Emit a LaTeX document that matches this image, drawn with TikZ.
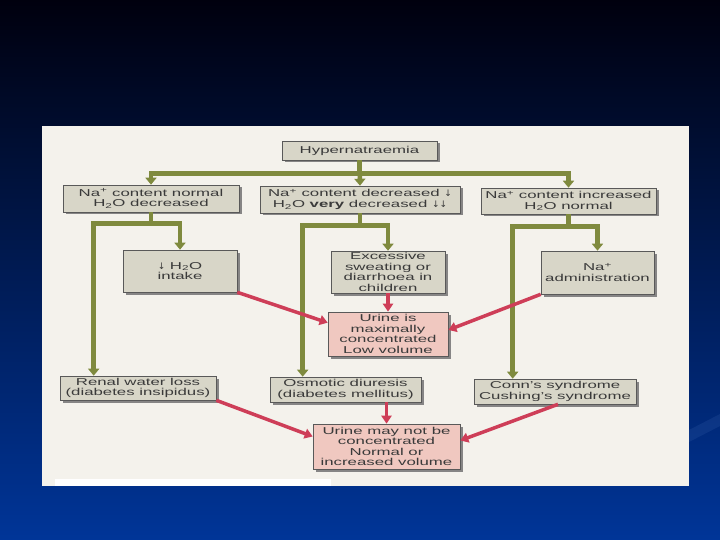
\documentclass[tikz,border=0pt]{standalone}
\usepackage{fontspec}
\setmainfont[FakeStretch=1.68]{Liberation Sans}
\newfontfamily\arrfont{DejaVu Sans}
\newcommand{\dn}{{\arrfont\fontsize{9}{10}\selectfont ↓}}
\usetikzlibrary{calc,shadows,arrows.meta}
\definecolor{bgtop}{HTML}{00000E}
\definecolor{bgmid}{HTML}{00246C}
\definecolor{bgbot}{HTML}{003598}
\definecolor{panel}{HTML}{F4F2EC}
\definecolor{greybox}{HTML}{D8D6C8}
\definecolor{pinkbox}{HTML}{F0C8C0}
\definecolor{grn}{HTML}{7F8A3E}
\definecolor{rd}{HTML}{CE3E58}
\definecolor{txt}{HTML}{3A3A3A}
\begin{document}
\begin{tikzpicture}[x=1pt,y=-1pt,
  box/.style={draw=black!65, line width=0.6pt, fill=greybox, text=txt, align=center,
    inner sep=1pt, font=\fontsize{10}{10.6}\selectfont,
    drop shadow={shadow xshift=2.5pt, shadow yshift=-2.5pt, fill=black!55, opacity=0.85}},
  pbox/.style={box, fill=pinkbox},
  garrow/.style={draw=grn, line width=4.5pt, line join=miter, -{Triangle[width=11pt,length=7pt]}},
  rarrow/.style={draw=rd, line width=3.5pt, -{Triangle[width=10pt,length=8pt]}},
]
\useasboundingbox (0,0) rectangle (720,540);
\shade[top color=bgtop, middle color=bgmid, bottom color=bgbot] (0,0) rectangle (720,540);
\fill[bgbot!75!white, opacity=0.2] (689,430) -- (720,414) -- (720,426) -- (689,442) -- cycle;
\fill[panel] (42,126) rectangle (689,486);
\fill[white] (55,479) rectangle (331,486);

% nodes
\node[box, minimum width=155, minimum height=19] (hyp) at (359.5,150.5) {Hypernatraemia};
\node[box, minimum width=176, minimum height=27] (b1) at (151,198.5) {Na\textsuperscript{+} content normal\\H\textsubscript{2}O decreased};
\node[box, minimum width=200, minimum height=27] (b2) at (360,199.5) {Na\textsuperscript{+} content decreased \dn\\H\textsubscript{2}O \textbf{very} decreased \dn\dn};
\node[box, minimum width=175, minimum height=26] (b3) at (568.5,201) {Na\textsuperscript{+} content increased\\H\textsubscript{2}O normal};
\node[box, minimum width=114, minimum height=42] (int) at (180,271) {\dn\ H\textsubscript{2}O\\intake};
\node[box, minimum width=114, minimum height=42] (exc) at (388,272) {Excessive\\sweating or\\diarrhoea in\\children};
\node[box, minimum width=113, minimum height=43] (nad) at (597.5,272.5) {Na\textsuperscript{+}\\administration};
\node[pbox, minimum width=120, minimum height=44] (um) at (388,334) {Urine is\\maximally\\concentrated\\Low volume};
\node[box, minimum width=156, minimum height=24] (ren) at (138,388) {Renal water loss\\(diabetes insipidus)};
\node[box, minimum width=151, minimum height=25] (osm) at (345.5,389.5) {Osmotic diuresis\\(diabetes mellitus)};
\node[box, minimum width=162, minimum height=25] (con) at (555,391.5) {Conn's syndrome\\Cushing's syndrome};
\node[pbox, minimum width=147, minimum height=45] (un) at (386.5,446.5) {Urine may not be\\concentrated\\Normal or\\increased volume};

% green connectors
\draw[garrow] (hyp.south) -- ++(0,13) -| (b1.north);
\draw[garrow] (hyp.south) -- (b2.north);
\draw[garrow] (hyp.south) -- ++(0,13) -| (b3.north);

\draw[garrow] (b1.south) -- ++(0,11) -| ($(ren.north west)+(34,0)$);
\draw[garrow] (b1.south) -- ++(0,11) -| (int.north);
\draw[garrow] (b2.south) -- ++(0,12) -| ($(osm.north west)+(33,0)$);
\draw[garrow] (b2.south) -- ++(0,12) -| (exc.north);
\draw[garrow] (b3.south) -- ++(0,12) -| ($(con.north west)+(39,0)$);
\draw[garrow] (b3.south) -- ++(0,12) -| (nad.north);

% red connectors
\draw[rarrow] (int.south east) -- ($(um.north west)+(0,11)$);
\draw[rarrow] (exc.south) -- (um.north);
\draw[rarrow] (nad.south west) -- ($(um.east)+(0,-4)$);
\draw[rarrow] (ren.south east) -- ($(un.west)+(0,-10)$);
\draw[rarrow] (un.north |- osm.south) -- (un.north);
\draw[rarrow] ($(con.south)+(3,0)$) -- ($(un.east)+(0,-6)$);
\end{tikzpicture}
\end{document}
